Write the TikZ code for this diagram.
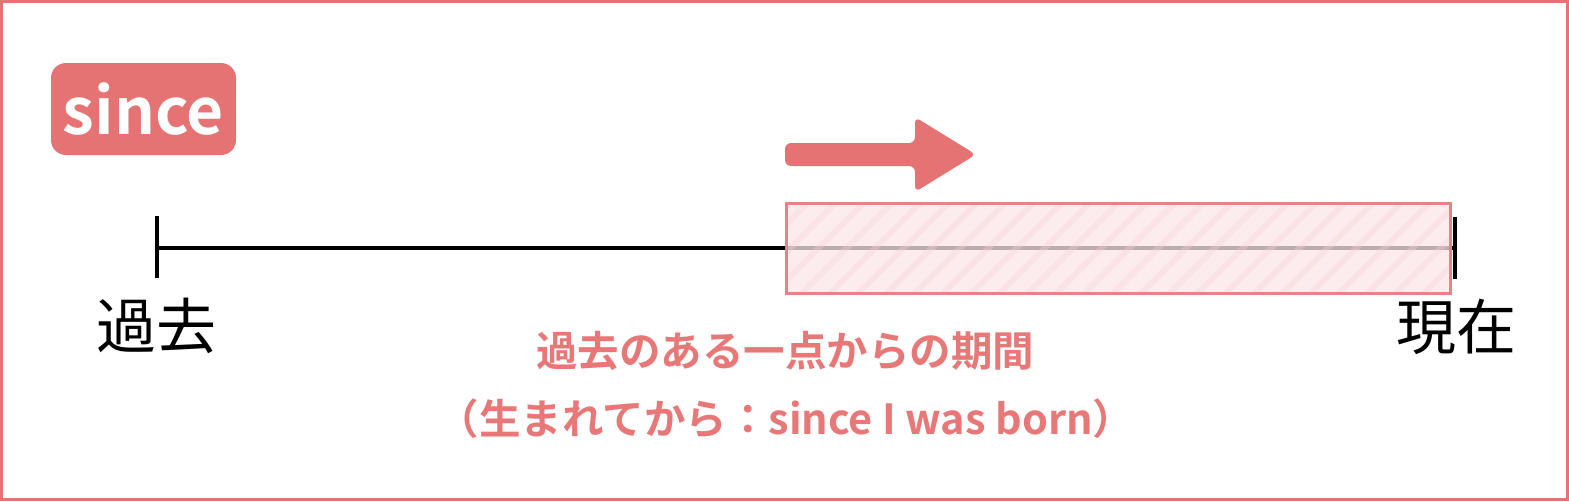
\documentclass[tikz,border=0pt]{standalone}
\usepackage{fontspec}
\setmainfont{Noto Sans CJK JP}
\newfontfamily\jpbold{Noto Sans CJK JP Bold}
\usetikzlibrary{patterns.meta}
\definecolor{pinkmain}{HTML}{E57373}
\definecolor{pinktext}{HTML}{E87878}
\definecolor{pinkfill}{HTML}{FBE6E8}
\definecolor{pinkstripe}{HTML}{F6D3D7}
\definecolor{pinkedge}{HTML}{E98286}
\tikzset{
  badge/.style={fill=pinkmain, text=white, rounded corners=15pt, minimum width=185pt, minimum height=92pt, inner sep=0pt, font=\jpbold\fontsize{64}{64}\selectfont},
  tline/.style={line width=3.2pt, black},
  jlabel/.style={inner sep=0pt, font=\fontsize{60}{60}\selectfont},
  ptext/.style={inner sep=0pt, text=pinktext, font=\jpbold\fontsize{41.5}{41.5}\selectfont},
}
\begin{document}
\begin{tikzpicture}[x=1pt,y=-1pt]
\useasboundingbox (0,0) rectangle (1569,501);
\draw[pinkmain, line width=3pt] (1.5,1.5) rectangle (1567.5,499.5);
\node[badge] (since) at (143.5,109) {since};
% arrow
\fill[pinkmain, rounded corners=6pt] (785,143) -- (915,143) -- (915,117) -- (976,154.5) -- (915,192) -- (915,166) -- (785,166) -- cycle;
% timeline
\coordinate (L) at (157,248);
\coordinate (R) at (1455,248);
\draw[tline] (L) -- (R);
\draw[tline] ([yshift=-30pt]L) -- ([yshift=32pt]L);
\draw[tline] ([yshift=-31pt]R) -- ([yshift=31pt]R);
% period box
\fill[pinkfill, opacity=0.75] (786,203.5) rectangle (1450,293.5);
\fill[pattern={Lines[angle=45,distance=20pt,line width=6pt]}, pattern color=pinkstripe, opacity=0.35] (786,203.5) rectangle (1450,293.5);
\draw[pinkedge, line width=3pt] (786,203.5) rectangle (1450,293.5);
% labels
\node[jlabel] (past) at (156,326) {過去};
\node[jlabel] (now) at (1456,327) {現在};
\node[ptext] (t1) at (785,351) {過去のある一点からの期間};
\node[ptext] (t2) at (786,419) {（生まれてから：since I was born）};
\end{tikzpicture}
\end{document}
